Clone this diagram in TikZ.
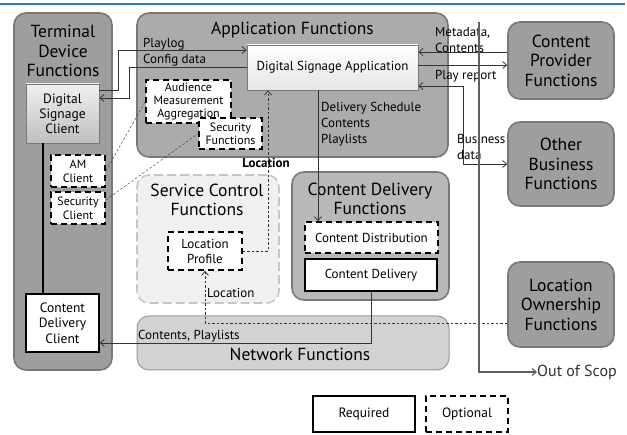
\documentclass[tikz,border=0pt]{standalone}
\usepackage{fontspec}
\setmainfont{PT Sans}
\usetikzlibrary{arrows.meta,calc,positioning}

\definecolor{grpdark}{HTML}{9E9E9E}
\definecolor{grpmid}{HTML}{ABABAB}
\definecolor{grplight}{HTML}{D2D2D2}
\definecolor{grppale}{HTML}{F0F0F0}
\definecolor{grpline}{HTML}{787878}
\definecolor{conline}{HTML}{333333}
\definecolor{topblue}{HTML}{2B7BBA}

\tikzset{
  group/.style={draw=grpline,line width=1.6pt,rounded corners=12pt,fill=grpdark,inner sep=0pt},
  grouptitle/.style={align=center,font=\fontsize{17.5}{19.5}\selectfont},
  funcbox/.style={draw=grpline,line width=0.8pt,inner sep=0pt,align=center,
    top color=gray!12,bottom color=gray!50,font=\fontsize{13.5}{15}\selectfont},
  reqbox/.style={draw=black,line width=1.6pt,fill=white,inner sep=0pt,align=center,
    font=\fontsize{13.5}{15.5}\selectfont},
  optbox/.style={reqbox,dash pattern=on 6pt off 4pt},
  arr/.style={draw=conline,line width=0.8pt,-{Straight Barb[length=4pt,width=7pt]}},
  dasharr/.style={arr,dash pattern=on 2.5pt off 2pt},
  lbl/.style={font=\fontsize{13}{16}\selectfont,inner sep=0pt,anchor=west,align=left}
}

\begin{document}
\begin{tikzpicture}[x=1pt,y=-1pt]
  \useasboundingbox (0,0) rectangle (627,435);
  \draw[topblue,line width=2pt] (0,4) -- (625,4);

  % groups
  \node[group,minimum width=98,minimum height=357] (tdf) at (63,191.5) {};
  \node[grouptitle] (tdft) at (63,51) {Terminal\\Device\\Functions};
  \node[group,fill=grpmid,minimum width=311,minimum height=144] (app) at (292.5,85) {};
  \node[grouptitle] (appt) at (292.5,30) {Application Functions};
  \node[group,fill=grppale,draw=gray!45,dash pattern=on 9pt off 4pt,minimum width=142,minimum height=128] (scf) at (208,239) {};
  \node[grouptitle] (scft) at (207,200) {Service Control\\Functions};
  \node[group,fill=grpmid!85,minimum width=157,minimum height=128] (cdf) at (370.5,236) {};
  \node[grouptitle] (cdft) at (370,199) {Content Delivery\\Functions};
  \node[group,fill=grplight,draw=gray!80,line width=1pt,minimum width=312,minimum height=54] (net) at (293,343) {};
  \node[grouptitle] (nett) at (300,354) {Network Functions};
  \node[group,minimum width=106,minimum height=77] (cpf) at (561,60.5) {};
  \node[grouptitle] at (cpf) {Content\\Provider\\Functions};
  \node[group,minimum width=106,minimum height=84] (obf) at (561,164) {};
  \node[grouptitle] at (obf) {Other\\Business\\Functions};
  \node[group,minimum width=106,minimum height=85] (lof) at (561,304.5) {};
  \node[grouptitle] at (lof) {Location\\Ownership\\Functions};

  % functions
  \node[funcbox,minimum width=73,minimum height=59] (dsc) at (62.5,113.5) {Digital\\Signage\\Client};
  \node[optbox,minimum width=54,minimum height=32,font=\fontsize{12}{14}\selectfont] (amc) at (78,171) {AM\\Client};
  \node[optbox,minimum width=54,minimum height=32,font=\fontsize{12}{14}\selectfont] (secc) at (78,208) {Security\\Client};
  \node[reqbox,minimum width=73,minimum height=58] (cdc) at (62.5,323) {Content\\Delivery\\Client};
  \node[funcbox,top color=white,bottom color=gray!20,font=\fontsize{13}{15}\selectfont,minimum width=171,minimum height=45] (dsa) at (332.5,67.5) {Digital Signage Application};
  \node[optbox,minimum width=85,minimum height=43,font=\fontsize{12}{13}\selectfont] (ama) at (188.5,101.5) {Audience\\Measurement\\Aggregation};
  \node[optbox,minimum width=63,minimum height=31,font=\fontsize{12}{13}\selectfont] (secf) at (230.5,133.5) {Security\\Functions};
  \node[optbox,minimum width=74,minimum height=38,font=\fontsize{13}{15}\selectfont] (lp) at (205,251) {Location\\Profile};
  \node[optbox,minimum width=133,minimum height=31,font=\fontsize{13}{15}\selectfont] (cdist) at (371.5,237.5) {Content Distribution};
  \node[reqbox,minimum width=132,minimum height=32,font=\fontsize{13}{15}\selectfont] (cdel) at (371,275) {Content Delivery};

  % connectors
  \draw[black,line width=1.6pt] ([xshift=-19.5pt]dsc.south) -- ([xshift=-19.5pt]cdc.north);
  \draw[conline,dash pattern=on 2.5pt off 2pt] (amc.east) -- (ama.west);
  \draw[conline,dash pattern=on 2.5pt off 2pt] ([yshift=8pt]secc.east) -- (secf.west);
  \draw[arr] ([yshift=23.5pt]dsc.east) -- ++(19,0) |- ([yshift=17.5pt]dsa.west);
  \draw[arr] (dsa.west) -- ++(-117,0) |- ([yshift=15.5pt]dsc.east);
  \node[lbl] (plog) at (143,44) {Playlog};
  \node[lbl] (cfg) at (143,60) {Config data};
  \draw[arr] ([yshift=8.5pt]cpf.west) -- ([yshift=8.5pt]cpf.west -| dsa.east);
  \draw[arr] ([yshift=2.5pt]dsa.east) -- ([yshift=2.5pt]dsa.east -| cpf.west);
  \draw[arr,{Straight Barb[length=4pt,width=7pt]}-{Straight Barb[length=4pt,width=7pt]}] ([yshift=-18.5pt]dsa.east) -- ++(45,0) |- (obf.west);
  \node[lbl] (meta) at (435,40) {Metadata,\\Contents};
  \node[lbl] (prep) at (435,76) {Play report};
  \node[lbl] (bdata) at (457,147) {Business\\data};
  \draw[arr] ([xshift=-14.5pt]dsa.south) -- ([xshift=-14.5pt]dsa.south |- cdist.north);
  \node[lbl,anchor=north west] (dsched) at (321,102) {Delivery Schedule\\Contents\\Playlists};
  \draw[dasharr] (lp.east) -| ([xshift=-64.5pt]dsa.south);
  \node[lbl,font=\bfseries\fontsize{13}{16}\selectfont,anchor=center] (locup) at (266,163) {Location};
  \draw[dasharr] ([yshift=-18.5pt]lof.west) -| (lp.south);
  \node[lbl] (locdn) at (207,293) {Location};
  \draw[arr] (cdel.south) |- ([yshift=-20pt]cdc.east);
  \node[lbl] (cpl) at (138,336) {Contents, Playlists};

  % scope line
  \node[lbl,font=\fontsize{16}{18}\selectfont,text=black!80] (oos) at (537,372) {Out of Scop};
  \coordinate (scopetop) at (479,22);
  \draw[arr,draw=gray!75!black,line width=1.2pt] (scopetop) |- (oos.west);

  % legend
  \node[reqbox,minimum width=102,minimum height=36] (req) at (364,414) {Required};
  \node[optbox,minimum width=82,minimum height=36] (opt) at (467,414) {Optional};
\end{tikzpicture}
\end{document}
